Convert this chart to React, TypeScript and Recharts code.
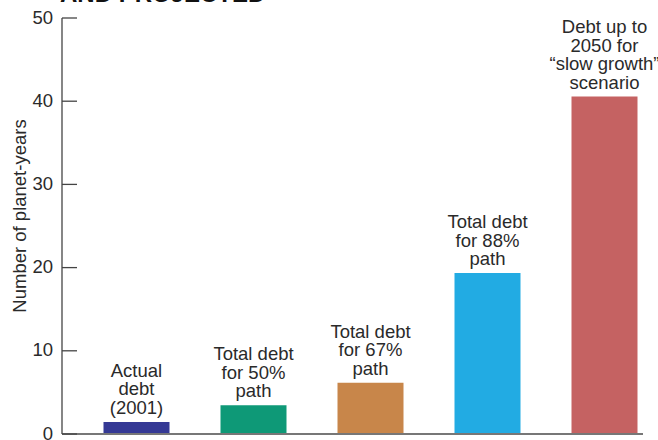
import React from "react";
import { BarChart, Bar, XAxis, YAxis, Cell, LabelList } from "recharts";

const categories = ["Actual debt (2001)", "50% path", "67% path", "88% path", "Slow growth 2050"];
const planetYears = [1.45, 3.45, 6.15, 19.35, 40.55];
const barLabels: string[][] = [
  ["Actual", "debt", "(2001)"],
  ["Total debt", "for 50%", "path"],
  ["Total debt", "for 67%", "path"],
  ["Total debt", "for 88%", "path"],
  ["Debt up to", "2050 for", "\u201Cslow growth\u201D", "scenario"],
];
const barColors = ["#353995", "#0e9977", "#c8864a", "#22abe3", "#c56262"];
const yTicks = [0, 10, 20, 30, 40, 50];
const titleText = "AND PROJECTED";
const yAxisTitle = "Number of planet-years";

const data = categories.map((c, i) => ({ name: c, value: planetYears[i] }));

const FONT = "'Liberation Sans', Arial, Helvetica, sans-serif";
const TEXT = "#2a2a2a";

const YTick = (props: any) => {
  const { x, y, payload } = props;
  return (
    <g>
      <line x1={x + 9} x2={x + 24} y1={y} y2={y} stroke="#444" strokeWidth={1.3} />
      <text x={x} y={y} dy={5.5} textAnchor="end" fontSize={18.5} fill={TEXT} fontFamily={FONT}>
        {payload.value}
      </text>
    </g>
  );
};

const YLabel = () => (
  <g>
    <text
      x={19}
      y={216}
      transform="rotate(-90 19 216)"
      textAnchor="middle"
      dominantBaseline="central"
      fontSize={18.5}
      fill={TEXT}
      fontFamily={FONT}
    >
      {yAxisTitle}
    </text>
    <text x={60} y={1.5} fontSize={24} fontWeight="bold" fill="#111" fontFamily={FONT}>
      {titleText}
    </text>
  </g>
);

const BarText = (props: any) => {
  const { x, y, width, index } = props;
  const lines = barLabels[index] || [];
  const cx = x + width / 2;
  const lh = 18.5;
  const lastBase = y - 8;
  return (
    <text textAnchor="middle" fontSize={18.5} fill={TEXT} fontFamily={FONT}>
      {lines.map((l, i) => (
        <tspan key={i} x={cx} y={lastBase - (lines.length - 1 - i) * lh}>
          {l}
        </tspan>
      ))}
    </text>
  );
};

export default function App() {
  return (
    <div style={{ position: "absolute", left: 0, top: 0, width: 658, height: 440, background: "#fff" }}>
      <BarChart
        width={658}
        height={440}
        data={data}
        margin={{ top: 18, right: 15, bottom: 5, left: 0 }}
        barSize={66}
      >
        <XAxis
          dataKey="name"
          height={1}
          tick={false}
          tickLine={false}
          axisLine={{ stroke: "#777", strokeWidth: 2 }}
          padding={{ left: 15.5, right: -19.5 }}
        />
        <YAxis
          width={62}
          domain={[0, 50]}
          ticks={yTicks}
          interval={0}
          tickLine={false}
          tickSize={0}
          tickMargin={9}
          tick={<YTick />}
          axisLine={{ stroke: "#444", strokeWidth: 1.3 }}
          label={<YLabel />}
        />
        <Bar dataKey="value" isAnimationActive={false}>
          {data.map((d, i) => (
            <Cell key={d.name} fill={barColors[i]} />
          ))}
          <LabelList dataKey="value" content={<BarText />} />
        </Bar>
      </BarChart>
    </div>
  );
}
